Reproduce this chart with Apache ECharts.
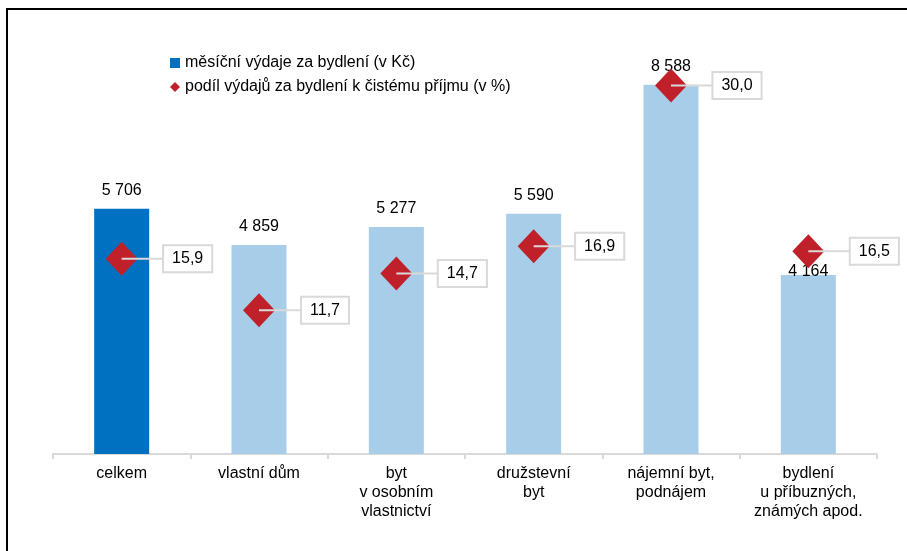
<!DOCTYPE html>
<html>
<head>
<meta charset="utf-8">
<script src="https://cdn.jsdelivr.net/npm/echarts@6/dist/echarts.min.js"></script>
<style>
  html, body { margin: 0; padding: 0; background: #fff; }
  #chart { width: 907px; height: 551px; }
</style>
</head>
<body>
<div id="chart"></div>
<script>
// kategorie domácností
var categories = ['celkem', 'vlastní dům', 'byt\nv osobním\nvlastnictví', 'družstevní\nbyt', 'nájemní byt,\npodnájem', 'bydlení\nu příbuzných,\nznámých apod.']
// měsíční výdaje za bydlení (Kč)
var expenses = [5706, 4859, 5277, 5590, 8588, 4164]
// podíl výdajů na čistém příjmu (%)
var shares = [15.9, 11.7, 14.7, 16.9, 30.0, 16.5]

var barName = 'měsíční výdaje za bydlení (v Kč)'
var shareName = 'podíl výdajů za bydlení k čistému příjmu (v %)'
var font = 'Liberation Sans, Arial, sans-serif'

var myChart = echarts.init(document.getElementById('chart'))

var barData = expenses.map(function (v, i) {
  var item = { value: v, itemStyle: { color: i === 0 ? '#0070C0' : '#A7CDE8' } }
  // poslední popisek je v originále posunutý dolů k hraně sloupce
  if (i === 5) item.label = { distance: -5 }
  return item
})

var option = {
  backgroundColor: '#fff',
  animation: false,
  textStyle: { fontFamily: font },
  graphic: [{
    type: 'rect',
    shape: { x: 7, y: 9, width: 920, height: 580 },
    style: { fill: 'none', stroke: '#000', lineWidth: 2 },
    silent: true
  }],
  grid: { left: 53, right: 30, top: 24, bottom: 97 },
  legend: {
    orient: 'vertical',
    left: 165,
    top: 50,
    itemGap: 8,
    itemWidth: 10,
    itemHeight: 10,
    textStyle: { fontSize: 16, color: '#000', fontFamily: font },
    data: [
      { name: barName, icon: 'rect', itemStyle: { color: '#0070C0' } },
      { name: shareName, icon: 'diamond', itemStyle: { color: '#C0202A' } }
    ]
  },
  xAxis: {
    type: 'category',
    data: categories,
    axisLine: { lineStyle: { color: '#D9D9D9', width: 2 } },
    axisTick: { show: true, length: 5, lineStyle: { color: '#D9D9D9', width: 2 } },
    axisLabel: {
      interval: 0,
      margin: 10,
      fontSize: 16,
      lineHeight: 19,
      color: '#000',
      fontFamily: font
    }
  },
  yAxis: [
    { type: 'value', min: 0, max: 10000, show: false, splitLine: { show: false } },
    { type: 'value', min: 0, max: 35, show: false, splitLine: { show: false } }
  ],
  series: [
    {
      name: barName,
      type: 'bar',
      barWidth: 55,
      data: barData,
      label: {
        show: true,
        position: 'top',
        distance: 10,
        fontSize: 16,
        color: '#000',
        fontFamily: font,
        formatter: function (p) {
          return String(p.value).replace(/\B(?=(\d{3})+(?!\d))/g, ' ')
        }
      },
      z: 2
    },
    {
      name: shareName,
      type: 'scatter',
      yAxisIndex: 1,
      symbol: 'diamond',
      symbolSize: [32, 34],
      itemStyle: { color: '#C0202A', opacity: 1 },
      data: shares,
      label: {
        show: true,
        position: 'inside',
        offset: [66, 0],
        fontSize: 16,
        color: '#000',
        fontFamily: font,
        backgroundColor: '#fff',
        borderColor: '#D9D9D9',
        borderWidth: 2,
        padding: [4, 8, 3, 8],
        lineHeight: 18,
        formatter: function (p) {
          return p.value.toFixed(1).replace('.', ',')
        }
      },
      z: 3
    },
    {
      // spojnice mezi kosočtvercem a popiskem
      name: 'spojnice',
      type: 'scatter',
      yAxisIndex: 1,
      symbol: 'rect',
      symbolSize: [42, 2],
      symbolOffset: [21, 0],
      itemStyle: { color: '#D9D9D9', opacity: 1 },
      data: shares,
      silent: true,
      z: 4
    }
  ]
}

myChart.setOption(option)
window.onresize = myChart.resize
</script>
</body>
</html>
